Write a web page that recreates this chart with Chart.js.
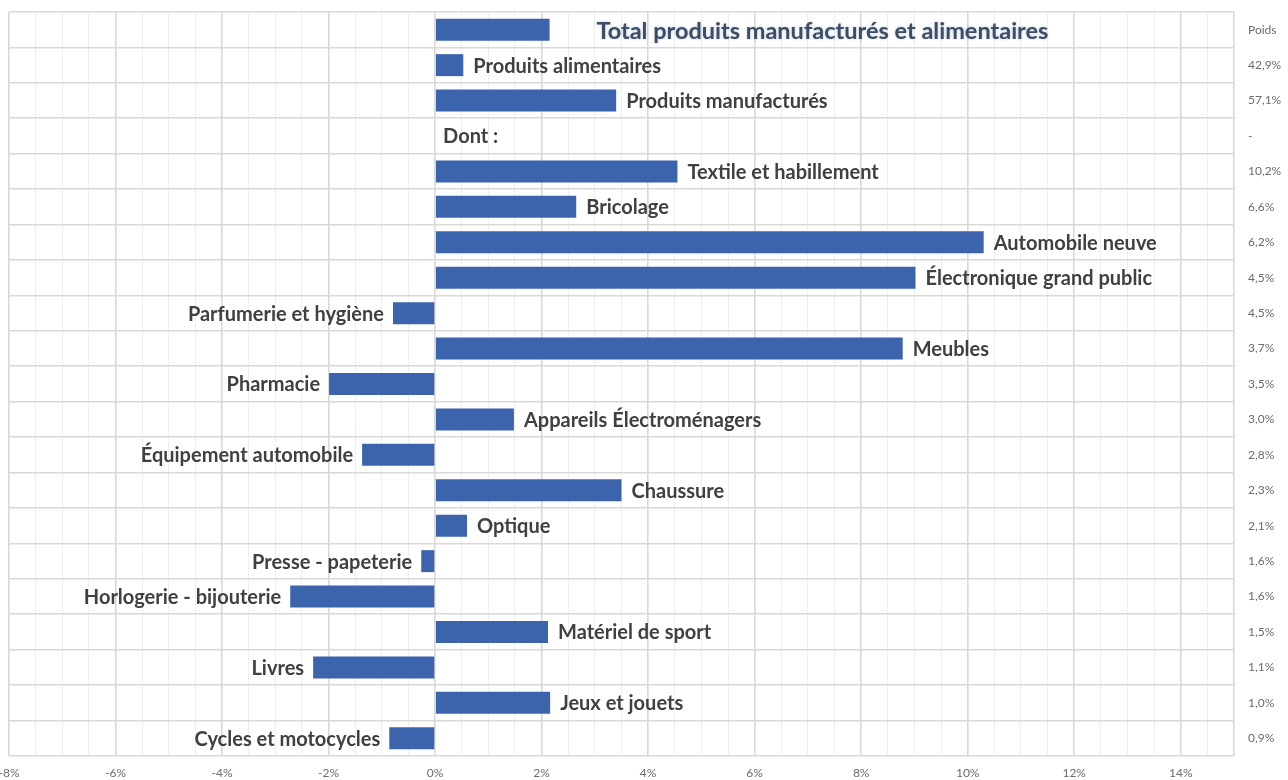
<!DOCTYPE html>
<html><head><meta charset="utf-8">
<script src="https://cdn.jsdelivr.net/npm/chart.js@4/dist/chart.umd.min.js"></script>
<style>html,body{margin:0;padding:0;background:#fff}#wrap{width:1288px;height:780px}</style>
</head><body><div id="wrap"><canvas id="c" width="1288" height="780"></canvas></div>
<script>
const categories = ["Total produits manufacturés et alimentaires","Produits alimentaires","Produits manufacturés","Dont :","Textile et habillement","Bricolage","Automobile neuve","Électronique grand public","Parfumerie et hygiène","Meubles","Pharmacie","Appareils Électroménagers","Équipement automobile","Chaussure","Optique","Presse - papeterie","Horlogerie - bijouterie","Matériel de sport","Livres","Jeux et jouets","Cycles et motocycles"];
const values = [2.15,0.53,3.40,null,4.55,2.65,10.3,9.02,-0.79,8.78,-1.99,1.48,-1.37,3.50,0.60,-0.26,-2.72,2.12,-2.29,2.16,-0.86];
const weights = ["Poids","42,9%","57,1%","-","10,2%","6,6%","6,2%","4,5%","4,5%","3,7%","3,5%","3,0%","2,8%","2,3%","2,1%","1,6%","1,6%","1,5%","1,1%","1,0%","0,9%"];
const xMin = -8, xMax = 15, xStep = 0.5, xLabelEvery = 2;

const FONT = "Lato, 'Open Sans', sans-serif";
const labelPlugin = {
  id: 'labels',
  afterDatasetsDraw(chart) {
    const ctx = chart.ctx, xs = chart.scales.x, ys = chart.scales.y, area = chart.chartArea;
    ctx.save();
    categories.forEach((name, i) => {
      const y = ys.getPixelForValue(i);
      const v = values[i];
      const zero = xs.getPixelForValue(0);
      if (i === 0) {
        ctx.font = "bold 23.5px " + FONT;
        ctx.textAlign = 'center'; ctx.textBaseline = 'middle';
        ctx.shadowColor = 'rgba(140,170,210,0.6)'; ctx.shadowBlur = 3;
        ctx.fillStyle = '#3E4D61';
        ctx.fillText(name, area.left + area.width * 0.664, y + 2);
        ctx.shadowBlur = 0; ctx.shadowColor = 'transparent';
      } else {
        ctx.font = "bold 20px " + FONT;
        ctx.textBaseline = 'middle';
        ctx.fillStyle = '#404040';
        if (v === null) {
          ctx.textAlign = 'left'; ctx.fillText(name, zero + 8, y + 1);
        } else if (v >= 0) {
          ctx.textAlign = 'left'; ctx.fillText(name, xs.getPixelForValue(v) + 10, y + 1);
        } else {
          ctx.textAlign = 'right'; ctx.fillText(name, xs.getPixelForValue(v) - 9, y + 1);
        }
      }
      ctx.font = "12px " + FONT;
      ctx.textAlign = 'left'; ctx.textBaseline = 'middle';
      ctx.fillStyle = '#6b6b6b';
      ctx.fillText(weights[i], area.right + 14, y);
    });
    ctx.restore();
  }
};

new Chart(document.getElementById('c'), {
  type: 'bar',
  data: { labels: categories, datasets: [{ data: values, backgroundColor: '#3C64AD', borderWidth: 0, categoryPercentage: 1, barPercentage: 0.62 }] },
  options: {
    indexAxis: 'y', responsive: false, animation: false,
    layout: { padding: { left: 9, right: 54, top: 12, bottom: 0 } },
    plugins: { legend: { display: false }, tooltip: { enabled: false }, title: { display: false } },
    scales: {
      x: {
        min: xMin, max: xMax,
        afterFit(s) { s.paddingLeft = 0; s.paddingRight = 0; s.height = 24; },
        ticks: { stepSize: xStep, autoSkip: false, maxRotation: 0, padding: 10, color: '#6b6b6b', font: { family: FONT, size: 12 },
          callback: (v) => (Math.abs(v % xLabelEvery) < 1e-9) ? (v + '%') : '' },
        grid: { drawTicks: false, color: (c) => { const v = c.tick ? c.tick.value : 0; return (Math.abs(v % xLabelEvery) < 1e-9 || v === xMax) ? '#d9d9d9' : '#efefef'; }, lineWidth: (c) => { const v = c.tick ? c.tick.value : 0; return (Math.abs(v % xLabelEvery) < 1e-9 || v === xMax) ? 1.6 : 1; } },
        border: { display: false }
      },
      y: {
        afterFit(s) { s.width = 0; },
        ticks: { display: false },
        grid: { offset: true, drawTicks: false, color: '#d9d9d9', lineWidth: 1.6 },
        border: { display: false }
      }
    }
  },
  plugins: [labelPlugin]
});
</script></body></html>
